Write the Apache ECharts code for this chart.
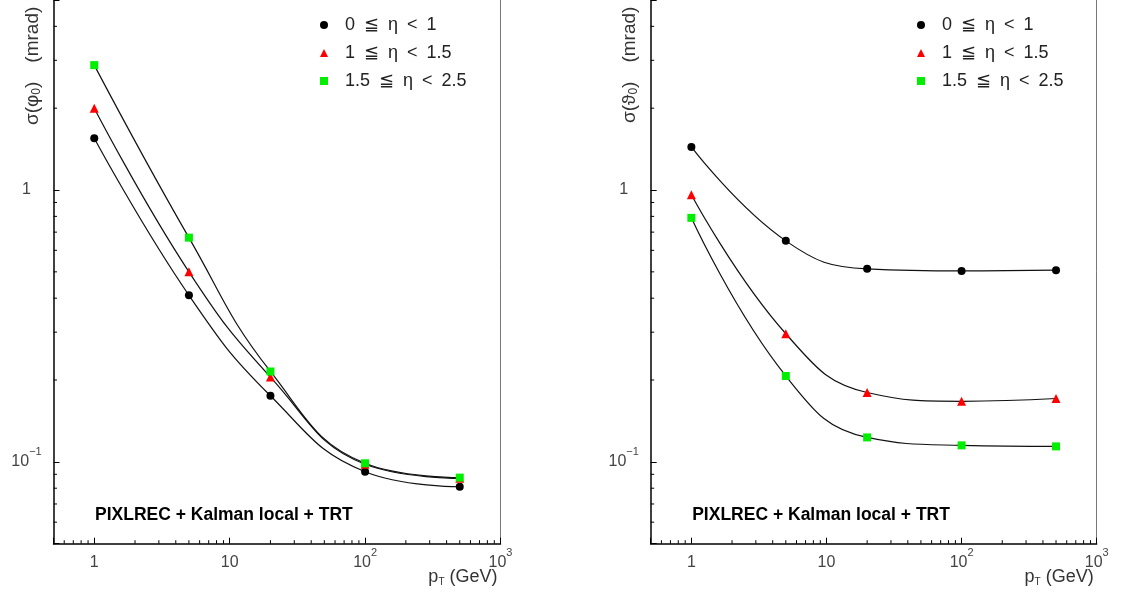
<!DOCTYPE html>
<html><head><meta charset="utf-8">
<script src="https://cdn.jsdelivr.net/npm/echarts@6/dist/echarts.min.js"></script>
<style>html,body{margin:0;padding:0;background:#fff}#c{width:1122px;height:592px}</style>
</head><body><div id="c"></div>
<script>
// ---- data ----
const ptValues = [1, 5, 20, 100, 500];
const seriesNames = ['0\u2002≦\u2002η\u2002<\u20021', '1\u2002≦\u2002η\u2002<\u20021.5', '1.5\u2002≦\u2002η\u2002<\u20022.5'];
// left panel: sigma(phi0) [mrad]
const phiEta0 = [1.55, 0.41, 0.175, 0.092, 0.081];
const phiEta1 = [2.00, 0.50, 0.205, 0.098, 0.087];
const phiEta2 = [2.88, 0.668, 0.215, 0.0988, 0.0875];
// right panel: sigma(theta0) [mrad]
const thetaEta0 = [1.44, 0.65, 0.513, 0.504, 0.507];
const thetaEta1 = [0.96, 0.296, 0.180, 0.167, 0.171];
const thetaEta2 = [0.79, 0.207, 0.123, 0.115, 0.114];
// axes
const xRange = [0.5, 1000];
const yRange = [0.05, 5];
const xTickValues = [1, 10, 100, 1000];
const xTickLabels = ['1', '10', '10{sup|2}', '10{sup|3}'];
const yTickValues = [0.1, 1];
const yTickLabels = ['10{sup|−1}', '1'];
const xMinorTicks = [0.6,0.7,0.8,0.9, 2,3,4,5,6,7,8,9, 20,30,40,50,60,70,80,90, 200,300,400,500,600,700,800,900];
const yMinorTicks = [0.06,0.07,0.08,0.09, 0.2,0.3,0.4,0.5,0.6,0.7,0.8,0.9, 2,3,4];
const yTitles = ['σ(φ{sub|0})\u2003(mrad)', 'σ(ϑ{sub|0})\u2003(mrad)'];
const xTitle = 'p{sub|T} (GeV)';
const annotation = 'PIXLREC + Kalman local + TRT';

// ---- styles / layout ----
const FONT = '"Liberation Sans", Arial, Helvetica, sans-serif';
const markerSymbols = ['circle', 'triangle', 'rect'];
const markerColors = ['#000000', '#ff0000', '#00ee00'];
const panels = [
  {left: 53.5, width: 447, legendLeft: 315, ytX: 33, ytY: 125, data: [phiEta0, phiEta1, phiEta2]},
  {left: 650.7, width: 446, legendLeft: 912, ytX: 630, ytY: 123, data: [thetaEta0, thetaEta1, thetaEta2]}
];
const GRID_TOP = -1.3, GRID_H = 545;

function fmt(values, labels) {
  return function (v) {
    for (let k = 0; k < values.length; k++) {
      if (Math.abs(Math.log10(v) - Math.log10(values[k])) < 1e-6) {
        const s = labels[k];
        const i = s.indexOf('{sup|');
        if (i < 0) return '{a|' + s + '}';
        return '{a|' + s.slice(0, i) + '}' + s.slice(i);
      }
    }
    return '';
  };
}
const labelRich = {
  a: {fontSize: 16, lineHeight: 30, fontFamily: FONT, color: '#444'},
  sup: {fontSize: 11, lineHeight: 11, verticalAlign: 'top', fontFamily: FONT, color: '#444'}
};

function minorTick(dir) {
  return function (params, api) {
    const p = api.coord([api.value(0), api.value(1)]);
    const len = 3.5;
    const shape = dir === 'x'
      ? {x1: p[0], y1: p[1], x2: p[0], y2: p[1] - len}
      : {x1: p[0], y1: p[1], x2: p[0] + len, y2: p[1]};
    return {type: 'line', shape: shape, style: {stroke: '#000', lineWidth: 1}};
  };
}

const grid = [], xAxis = [], yAxis = [], series = [], legend = [], graphic = [];
panels.forEach((pn, i) => {
  grid.push({left: pn.left, top: GRID_TOP, width: pn.width, height: GRID_H, show: false});
  xAxis.push({type: 'log', logBase: 10, gridIndex: i, min: xRange[0], max: xRange[1],
    axisLine: {show: true, lineStyle: {color: '#000', width: 1.5}},
    axisTick: {show: true, inside: true, length: 6, lineStyle: {color: '#000', width: 1}},
    axisLabel: {show: true, margin: 4, formatter: fmt(xTickValues, xTickLabels), rich: labelRich, showMinLabel: true, showMaxLabel: true},
    splitLine: {show: false}, minorTick: {show: false}});
  yAxis.push({type: 'log', logBase: 10, gridIndex: i, min: yRange[0], max: yRange[1],
    axisLine: {show: true, lineStyle: {color: '#000', width: 1.5}},
    axisTick: {show: true, inside: true, length: 6, lineStyle: {color: '#000', width: 1}},
    axisLabel: {show: true, margin: 27, align: 'center', formatter: fmt(yTickValues, yTickLabels), rich: labelRich},
    splitLine: {show: false}, minorTick: {show: false}});
  pn.data.forEach((vals, k) => {
    series.push({type: 'line', name: seriesNames[k], xAxisIndex: i, yAxisIndex: i,
      data: ptValues.map((x, j) => [x, vals[j]]), smooth: 0.45,
      symbol: markerSymbols[k], symbolSize: k === 1 ? 9 : 8, showAllSymbol: true,
      itemStyle: {color: markerColors[k], borderWidth: 0},
      lineStyle: {color: '#111', width: 1.2}, z: 3, silent: true});
  });
  series.push({type: 'custom', xAxisIndex: i, yAxisIndex: i, silent: true, clip: false, z: 2,
    data: xMinorTicks.map(v => [v, yRange[0]]), renderItem: minorTick('x')});
  series.push({type: 'custom', xAxisIndex: i, yAxisIndex: i, silent: true, clip: false, z: 2,
    data: yMinorTicks.map(v => [xRange[0], v]), renderItem: minorTick('y')});
  legend.push({orient: 'vertical', left: pn.legendLeft, top: 10, itemWidth: 8, itemHeight: 8, itemGap: 8,
    selectedMode: false,
    data: seriesNames.map((n, k) => ({name: n, icon: markerSymbols[k], itemStyle: {color: markerColors[k], borderWidth: 0}})),
    textStyle: {fontSize: 18, fontFamily: FONT, color: '#222', lineHeight: 20, padding: [0, 0, 0, 12]}});
  // y title
  graphic.push({type: 'text', x: pn.ytX, y: pn.ytY, rotation: Math.PI / 2,
    style: {text: yTitles[i], font: '19px ' + FONT, fill: '#333', align: 'left', verticalAlign: 'middle',
      rich: {sub: {fontSize: 12, fontFamily: FONT, fill: '#333', verticalAlign: 'bottom', lineHeight: 15}}}});
  // x title
  graphic.push({type: 'text', x: pn.left + pn.width - 3, y: 577,
    style: {text: xTitle, font: '18px ' + FONT, fill: '#333', align: 'right', verticalAlign: 'middle', lineHeight: 20,
      rich: {sub: {fontSize: 10, fontFamily: FONT, fill: '#333', verticalAlign: 'bottom', lineHeight: 14}}}});
  // annotation
  graphic.push({type: 'text', x: pn.left + 41.5, y: 515.5,
    style: {text: annotation, font: 'bold 17.5px ' + FONT, fill: '#000', align: 'left', verticalAlign: 'middle'}});
});
// right-hand frame lines (secondary y axes, no ticks/labels)
panels.forEach((pn, i) => {
  yAxis.push({type: 'log', logBase: 10, gridIndex: i, min: yRange[0], max: yRange[1], position: 'right',
    axisLine: {show: true, lineStyle: {color: '#777', width: 1}},
    axisTick: {show: false}, axisLabel: {show: false}, splitLine: {show: false}});
});

const chart = echarts.init(document.getElementById('c'), null, {renderer: 'canvas'});
chart.setOption({animation: false, backgroundColor: '#fff', grid, xAxis, yAxis, series, legend, graphic});
</script></body></html>
